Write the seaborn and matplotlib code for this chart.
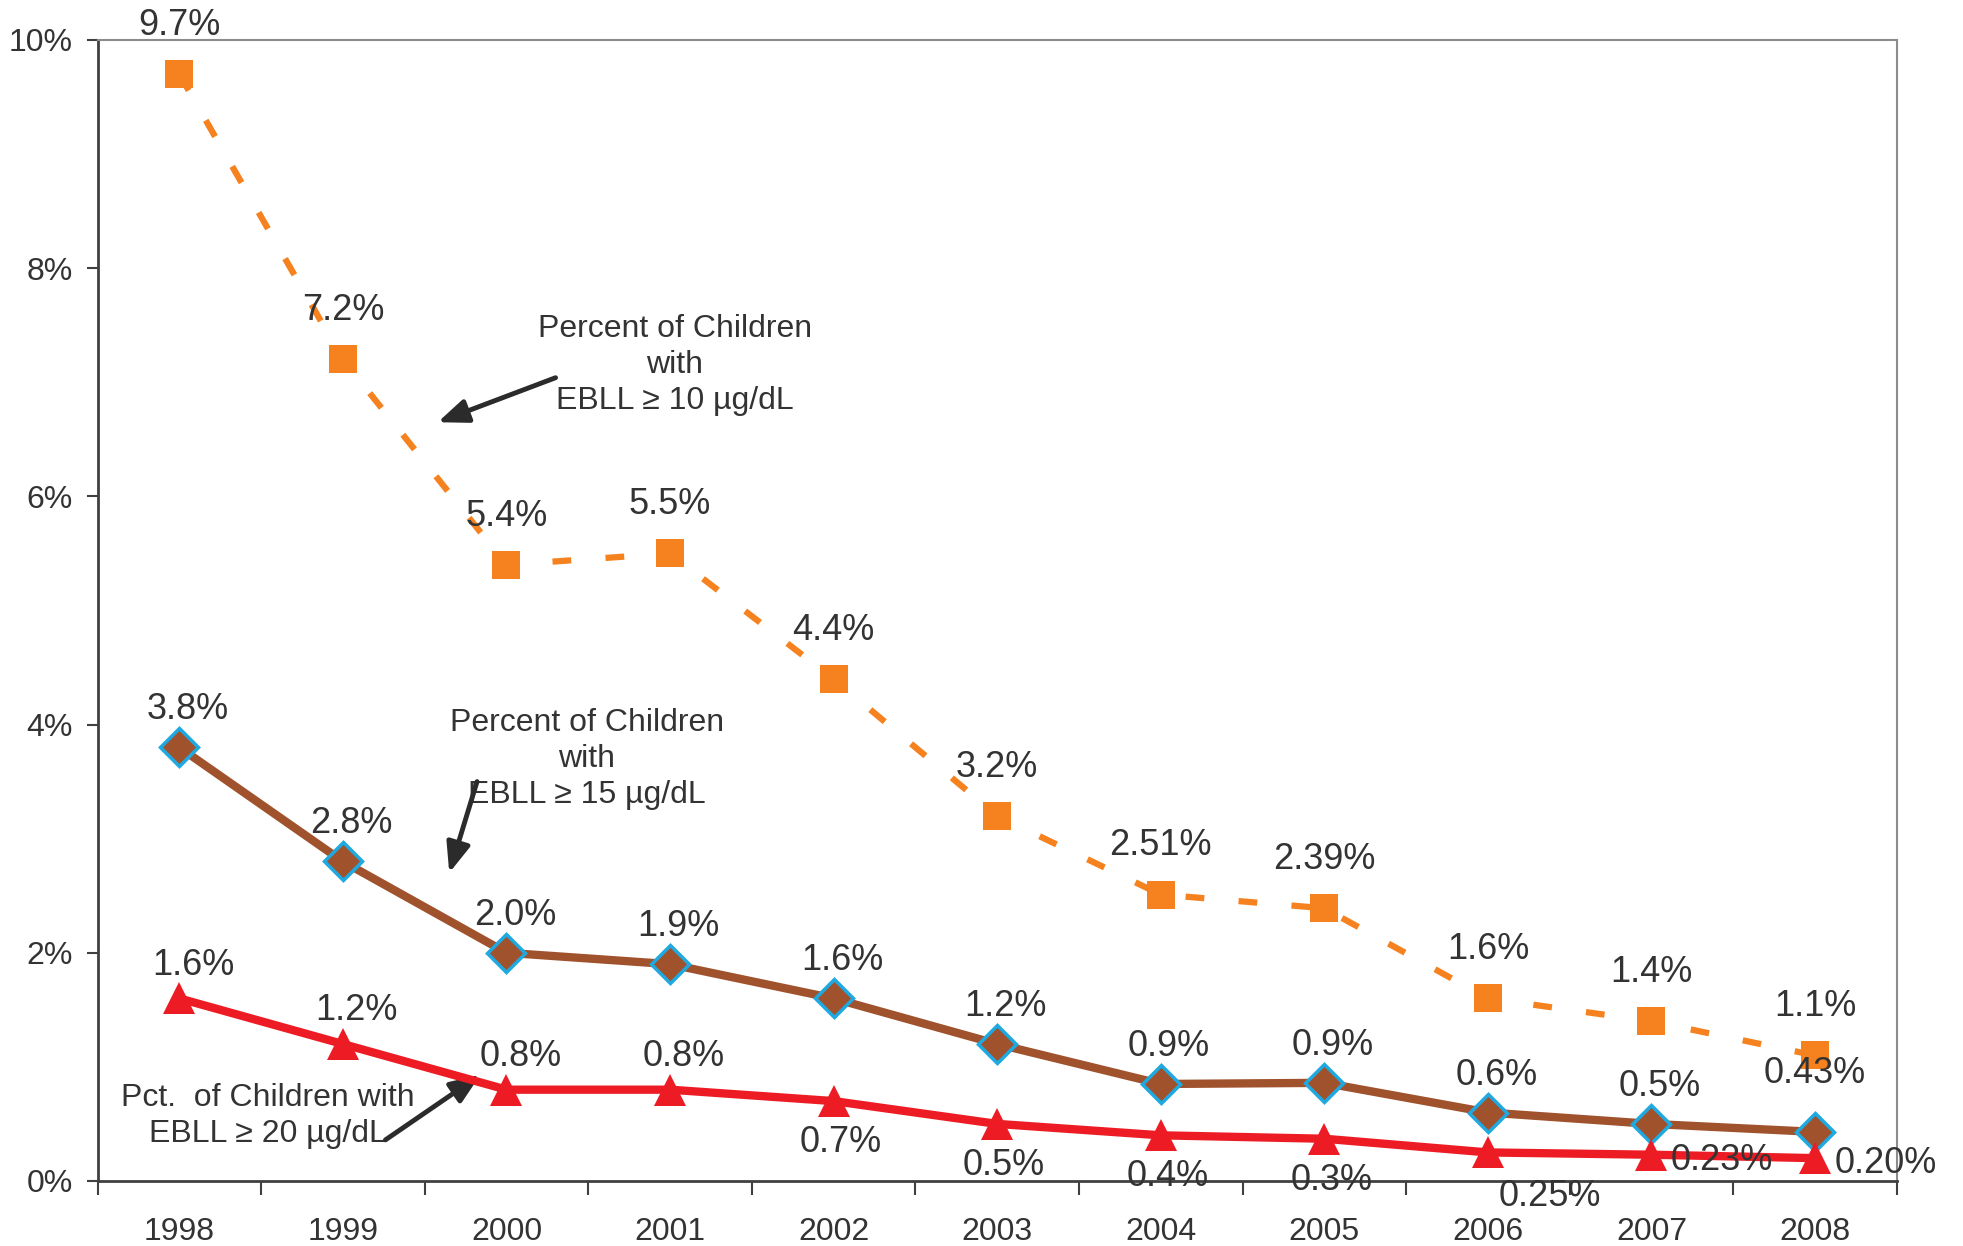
import numpy as np
import pandas as pd
import matplotlib
matplotlib.use("Agg")
import matplotlib.pyplot as plt
import seaborn as sns

# === Data (percent of children) ===
years = [1998, 1999, 2000, 2001, 2002, 2003, 2004, 2005, 2006, 2007, 2008]
ebll10 = [9.7, 7.2, 5.4, 5.5, 4.4, 3.2, 2.51, 2.39, 1.6, 1.4, 1.1]
ebll15 = [3.8, 2.8, 2.0, 1.9, 1.6, 1.2, 0.85, 0.86, 0.6, 0.5, 0.43]
ebll20 = [1.6, 1.2, 0.8, 0.8, 0.7, 0.5, 0.4, 0.37, 0.25, 0.23, 0.20]
labels10 = ["9.7%", "7.2%", "5.4%", "5.5%", "4.4%", "3.2%", "2.51%", "2.39%", "1.6%", "1.4%", "1.1%"]
labels15 = ["3.8%", "2.8%", "2.0%", "1.9%", "1.6%", "1.2%", "0.9%", "0.9%", "0.6%", "0.5%", "0.43%"]
labels20 = ["1.6%", "1.2%", "0.8%", "0.8%", "0.7%", "0.5%", "0.4%", "0.3%", "0.25%", "0.23%", "0.20%"]
y_ticks = [0, 2, 4, 6, 8, 10]

# where each data label sits relative to its point
place10 = ["above"] * 11
place15 = ["above_b"] * 10 + ["above_hi"]
place20 = ["above_r"] * 4 + ["below"] * 4 + ["below_right", "right", "right"]
offsets = {
    "above": (0, 35, "center"),
    "above_b": (6, 27, "center"),
    "above_r": (10, 24, "center"),
    "above_hi": (0, 42, "center"),
    "below": (5, -30, "center"),
    "below_right": (8, -32, "left"),
    "right": (14, -4, "left"),
}

ORANGE = "#F5821F"
BROWN = "#A0522D"
RED = "#ED1C24"
CYAN = "#1FA9E1"
TEXT = "#333333"

df = pd.DataFrame({"Year": years, "EBLL10": ebll10, "EBLL15": ebll15, "EBLL20": ebll20})

sns.set_style("white")
plt.rcParams["font.family"] = ["Liberation Sans", "DejaVu Sans"]

fig = plt.figure(figsize=(19.63, 12.46), dpi=100)
ax = fig.add_axes([0.0497, 0.0522, 0.9166, 0.9157])

# === Lines ===
sns.lineplot(data=df, x="Year", y="EBLL10", ax=ax, color=ORANGE, lw=4.5,
             marker="s", markersize=20, markeredgewidth=0, markeredgecolor=ORANGE, zorder=3)
ax.lines[-1].set_linestyle((0, (3, 5.5)))
sns.lineplot(data=df, x="Year", y="EBLL15", ax=ax, color=BROWN, lw=6,
             marker="D", markersize=19, markeredgewidth=2.5, markeredgecolor=CYAN, zorder=4)
sns.lineplot(data=df, x="Year", y="EBLL20", ax=ax, color=RED, lw=6,
             marker="^", markersize=23, markeredgewidth=0, markeredgecolor=RED, zorder=5)

# === Data labels ===
for vals, labs, places in [(ebll10, labels10, place10), (ebll15, labels15, place15), (ebll20, labels20, place20)]:
    for x, y, lab, p in zip(years, vals, labs, places):
        dx, dy, ha = offsets[p]
        ax.annotate(lab, (x, y), xytext=(dx, dy), textcoords="offset points",
                    ha=ha, va="center", fontsize=26, color=TEXT, zorder=10)

# === Callouts ===
arrow_kw = dict(arrowstyle="-|>,head_length=0.45,head_width=0.18", lw=3.5,
                color="#2b2b2b", shrinkA=0, shrinkB=0, mutation_scale=40)
ax.text(2001.03, 7.15, "Percent of Children\nwith\nEBLL ≥ 10 µg/dL", ha="center", va="center",
        fontsize=23, color=TEXT, linespacing=1.25)
ax.annotate("", xy=(1999.58, 6.65), xytext=(2000.30, 7.04), arrowprops=arrow_kw)

ax.text(2000.49, 3.70, "Percent of Children\nwith\nEBLL ≥ 15 µg/dL", ha="center", va="center",
        fontsize=23, color=TEXT, linespacing=1.25)
ax.annotate("", xy=(1999.65, 2.70), xytext=(1999.82, 3.50), arrowprops=arrow_kw)

ax.text(1998.54, 0.57, "Pct.  of Children with\nEBLL ≥ 20 µg/dL", ha="center", va="center",
        fontsize=23, color=TEXT, linespacing=1.25)
ax.annotate("", xy=(1999.84, 0.93), xytext=(1999.26, 0.36), arrowprops=arrow_kw)

# === Axes ===
ax.set_xlim(1997.5, 2008.5)
ax.set_ylim(0, 10)
ax.set_xticks(years)
ax.set_xticks(np.arange(1997.5, 2009, 1), minor=True)
ax.set_yticks(y_ticks)
ax.set_yticklabels([f"{v}%" for v in y_ticks])
ax.set_xlabel("")
ax.set_ylabel("")

ax.tick_params(axis="x", which="major", bottom=True, length=0, pad=26, labelsize=23, labelcolor=TEXT)
ax.tick_params(axis="x", which="minor", bottom=True, length=10, width=1.5, direction="out", color="#404040")
ax.tick_params(axis="y", which="major", left=True, length=8, width=1.5, direction="out", color="#404040",
               pad=10, labelsize=23, labelcolor=TEXT)

for side in ["top", "right"]:
    ax.spines[side].set_color("#8c8c8c")
    ax.spines[side].set_linewidth(1.5)
for side in ["left", "bottom"]:
    ax.spines[side].set_color("#404040")
    ax.spines[side].set_linewidth(2)

fig.savefig("out.png", dpi=100)
plt.close(fig)
